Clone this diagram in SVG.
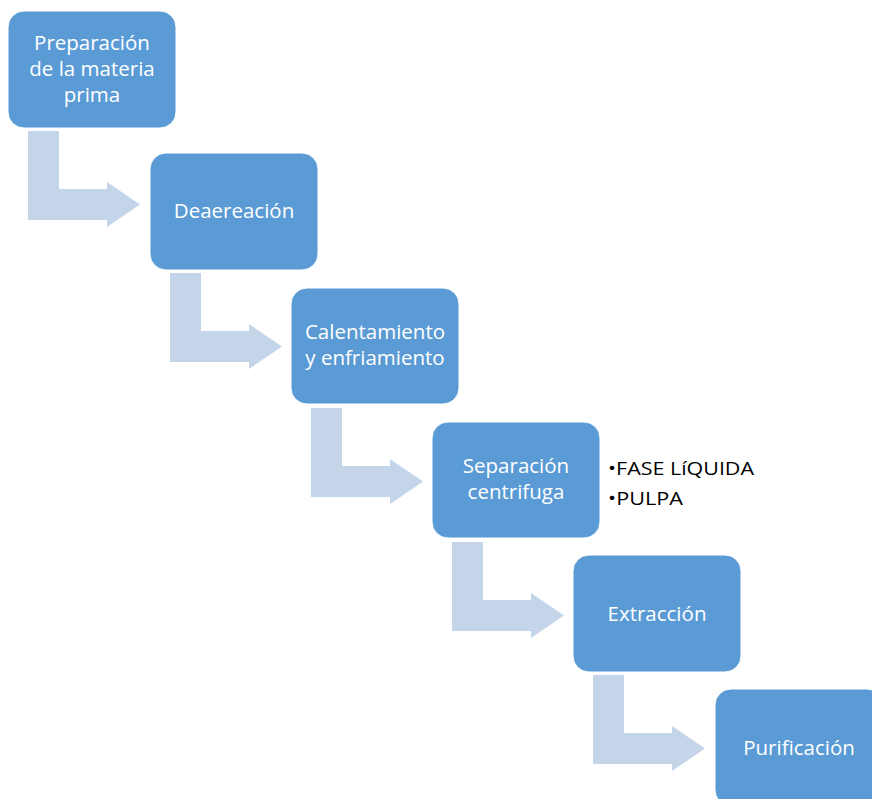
<svg xmlns="http://www.w3.org/2000/svg" width="872" height="799" viewBox="0 0 872 799">
<defs>
<style>
.box{fill:#5B9BD5;stroke:#FFFFFF;stroke-width:1}
.arr{fill:#C4D5EA}
.t{font-family:"Open Sans","Liberation Sans",sans-serif;font-size:20.5px;fill:#FFFFFF;text-anchor:middle}
.b{font-family:"Open Sans","Liberation Sans",sans-serif;font-size:19px;fill:#000000}
</style>
<polygon id="arrowShape" points="20,120 51,120 51,178 99,178 99,171 132,193.5 99,216 99,209 20,209"/>
</defs>
<rect width="872" height="799" fill="#FFFFFF"/>
<g id="connectors">
<use href="#arrowShape" class="arr" x="8" y="11"/>
<use href="#arrowShape" class="arr" x="150" y="153"/>
<use href="#arrowShape" class="arr" x="291" y="288"/>
<use href="#arrowShape" class="arr" x="432" y="422"/>
<use href="#arrowShape" class="arr" x="573" y="555"/>
</g>
<g id="node1">
<rect class="box" x="8" y="11" width="168" height="117" rx="16"/>
<text class="t"><tspan x="92" y="50">Preparación</tspan><tspan x="92" y="76">de la materia</tspan><tspan x="92" y="102">prima</tspan></text>
</g>
<g id="node2">
<rect class="box" x="150" y="153" width="168" height="117" rx="16"/>
<text class="t" x="234" y="218">Deaereación</text>
</g>
<g id="node3">
<rect class="box" x="291" y="288" width="168" height="116" rx="16"/>
<text class="t"><tspan x="375" y="339">Calentamiento</tspan><tspan x="375" y="365">y enfriamiento</tspan></text>
</g>
<g id="node4">
<rect class="box" x="432" y="422" width="168" height="116" rx="16"/>
<text class="t"><tspan x="516" y="473">Separación</tspan><tspan x="516" y="499">centrifuga</tspan></text>
<text class="b"><tspan x="608" y="475" textLength="146" lengthAdjust="spacingAndGlyphs">•FASE LíQUIDA</tspan><tspan x="608" y="505" textLength="75" lengthAdjust="spacingAndGlyphs">•PULPA</tspan></text>
</g>
<g id="node5">
<rect class="box" x="573" y="555" width="168" height="117" rx="16"/>
<text class="t" x="657" y="621">Extracción</text>
</g>
<g id="node6">
<rect class="box" x="715" y="689" width="168" height="117" rx="16"/>
<text class="t" x="799" y="755">Purificación</text>
</g>
</svg>
